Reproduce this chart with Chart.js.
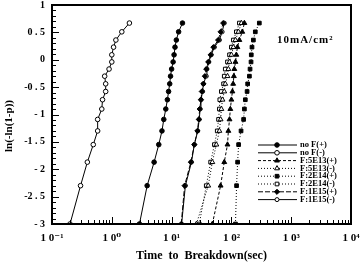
<!DOCTYPE html>
<html>
<head>
<meta charset="utf-8">
<script src="https://cdn.jsdelivr.net/npm/chart.js@4/dist/chart.umd.min.js"></script>
<style>
  html, body { margin: 0; padding: 0; background: #fff; }
  #wrap { width: 361px; height: 262px; }
</style>
</head>
<body>
<div id="wrap"><canvas id="chart" width="361" height="262"></canvas></div>
<script>
// Weibull plot levels ln(-ln(1-p)), shared by all samples
const lnLevels = [-3.0, -2.3, -1.87, -1.55, -1.3, -1.09, -0.9, -0.73, -0.58, -0.44, -0.3, -0.17, -0.04, 0.09, 0.23, 0.36, 0.51, 0.67];

// time to breakdown (sec) for each sample, same order as lnLevels
const noFPlus    = [2.9, 3.9, 5.1, 6.1, 6.9, 7.4, 8.0, 8.5, 8.9, 9.3, 9.6, 10.0, 10.6, 11.0, 11.4, 12.0, 13.1, 15.2];
const noFMinus   = [0.20, 0.30, 0.39, 0.49, 0.58, 0.58, 0.68, 0.70, 0.79, 0.79, 0.76, 0.90, 1.0, 1.0, 1.07, 1.17, 1.47, 1.97];
const f5e13Plus  = [48, 66, 76, 86, 89, 93, 96, 100, 104, 107, 110, 112, 117, 121, 126, 136, 152, 165];
const f5e13Minus = [26, 41, 48, 56, 63, 66, 68, 71, 76, 79, 86, 89, 93, 100, 108, 117, 131, 147];
const f2e14Plus  = [117, 122, 127, 132, 145, 160, 165, 171, 183, 187, 200, 205, 213, 215, 221, 233, 251, 293];
const f2e14Minus = [29, 38, 45, 52, 58, 61, 63, 64, 68, 74, 76, 79, 86, 93, 100, 108, 121, 136];
const f1e15Plus  = [14.5, 16.5, 21, 24, 27, 28.5, 29.5, 31, 32, 34, 36, 38, 41, 45, 50, 60, 66, 73];
const f1e15Minus = [14.7, 17, 21.5, 24, 27.4, 29, 30, 31, 33, 34, 38, 39, 42, 46, 52, 63, 70, 76];

const seriesLabels = ['no F(+)', 'no F(-)', 'F:5E13(+)', 'F:5E13(-)', 'F:2E14(+)', 'F:2E14(-)', 'F:1E15(+)', 'F:1E15(-)'];
const seriesTimes = [noFPlus, noFMinus, f5e13Plus, f5e13Minus, f2e14Plus, f2e14Minus, f1e15Plus, f1e15Minus];

const xTickValues = [0.1, 1, 10, 100, 1000, 10000];
const xTickLabels = ['1 0\u207B\u00B9', '1 0\u2070', '1 0\u00B9', '1 0\u00B2', '1 0\u00B3', '1 0\u2074'];
const yTickValues = [1, 0.5, 0, -0.5, -1, -1.5, -2, -2.5, -3];
const yTickLabels = ['1', '0 . 5', '0', '-0 . 5', '- 1', '-1 . 5', '- 2', '-2 . 5', '- 3'];

const styles = [
  { pointStyle: 'circle',   fill: '#000', radius: 2.3, dash: [] },
  { pointStyle: 'circle',   fill: '#fff', radius: 2.3, dash: [] },
  { pointStyle: 'triangle', fill: '#000', radius: 2.8, dash: [3, 2] },
  { pointStyle: 'triangle', fill: '#fff', radius: 2.8, dash: [1, 2] },
  { pointStyle: 'rect',     fill: '#000', radius: 2.6, dash: [1, 2] },
  { pointStyle: 'rect',     fill: '#fff', radius: 2.6, dash: [1, 2] },
  { pointStyle: 'rectRot',  fill: '#000', radius: 2.6, dash: [5, 2] },
  { pointStyle: 'circle',   fill: '#fff', radius: 2.0, dash: [] }
];

const serif = '"Liberation Serif", "DejaVu Serif", serif';

const datasets = seriesTimes.map((times, i) => ({
  label: seriesLabels[i],
  data: times.map((t, k) => ({ x: t, y: lnLevels[k] })),
  borderColor: '#000',
  borderWidth: 1,
  borderDash: styles[i].dash,
  pointStyle: styles[i].pointStyle,
  pointRadius: styles[i].radius,
  pointBackgroundColor: styles[i].fill,
  pointBorderColor: '#000',
  pointBorderWidth: 1,
  showLine: true,
  tension: 0
}));

// frame, inward ticks, titles, legend and the current-density note
const decorations = {
  id: 'decorations',
  afterDatasetsDraw(chart) {
    const { ctx, chartArea: a, scales: { x, y } } = chart;
    ctx.save();
    ctx.strokeStyle = '#000';
    ctx.lineWidth = 1;
    ctx.setLineDash([]);

    // y minor ticks every 0.1, longer on 0.5
    for (let k = -30; k <= 10; k++) {
      const py = Math.round(y.getPixelForValue(k / 10)) + 0.5;
      const len = k % 5 === 0 ? 7 : 4;
      ctx.beginPath();
      ctx.moveTo(a.left, py);
      ctx.lineTo(a.left + len, py);
      ctx.stroke();
    }
    // x log ticks
    for (let e = -1; e <= 4; e++) {
      for (let m = 1; m <= 9; m++) {
        const v = m * Math.pow(10, e);
        if (v > 10000) break;
        const px = Math.round(x.getPixelForValue(v)) + 0.5;
        const len = m === 1 ? 7 : 4;
        ctx.beginPath();
        ctx.moveTo(px, a.bottom);
        ctx.lineTo(px, a.bottom - len);
        ctx.stroke();
      }
    }
    // frame
    ctx.lineWidth = 2;
    ctx.strokeRect(a.left, a.top, a.right - a.left, a.bottom - a.top);

    // axis titles
    ctx.fillStyle = '#000';
    ctx.font = 'bold 12px ' + serif;
    ctx.textAlign = 'center';
    ctx.textBaseline = 'alphabetic';
    ctx.fillText('Time  to  Breakdown(sec)', (a.left + a.right) / 2, 259);
    ctx.save();
    ctx.translate(9, 126);
    ctx.rotate(-Math.PI / 2);
    ctx.font = 'bold 11px ' + serif;
    ctx.textBaseline = 'middle';
    ctx.fillText('ln(-ln(1-p))', 0, 0);
    ctx.restore();

    // note
    ctx.font = 'bold 11px ' + serif;
    ctx.letterSpacing = '1px';
    ctx.textAlign = 'left';
    ctx.textBaseline = 'middle';
    ctx.fillText('10mA/cm\u00B2', a.right - 74, 40);
    ctx.letterSpacing = '0px';

    // legend
    chart.data.datasets.forEach((ds, i) => {
      const yy = 145 + i * 7.8;
      ctx.lineWidth = 1;
      ctx.strokeStyle = '#000';
      ctx.setLineDash(ds.borderDash.length ? ds.borderDash : []);
      ctx.beginPath();
      ctx.moveTo(a.right - 93, yy);
      ctx.lineTo(a.right - 54, yy);
      ctx.stroke();
      ctx.setLineDash([]);
      ctx.fillStyle = ds.pointBackgroundColor;
      Chart.helpers.drawPoint(ctx, { pointStyle: ds.pointStyle, radius: ds.pointRadius, rotation: 0, borderWidth: 1 }, a.right - 74, yy);
      ctx.fillStyle = '#000';
      ctx.font = 'bold 8.5px ' + serif;
      ctx.fillText(ds.label, a.right - 51, yy);
    });
    ctx.restore();
  }
};

new Chart(document.getElementById('chart').getContext('2d'), {
  type: 'line',
  data: { datasets: datasets },
  options: {
    responsive: false,
    animation: false,
    devicePixelRatio: 1,
    layout: { padding: { top: 5, right: 10, left: 0, bottom: 0 } },
    plugins: { legend: { display: false }, tooltip: { enabled: false } },
    scales: {
      x: {
        type: 'logarithmic',
        min: 0.1,
        max: 10000,
        afterBuildTicks: s => { s.ticks = xTickValues.map(v => ({ value: v })); },
        afterFit: s => { s.height = 38; s.paddingLeft = 0; s.paddingRight = 0; },
        grid: { display: false, drawTicks: false },
        border: { display: false },
        ticks: {
          autoSkip: false,
          maxRotation: 0,
          padding: 8,
          color: '#000',
          font: { family: serif, size: 11, weight: 'bold' },
          callback: v => { const i = xTickValues.indexOf(v); return i >= 0 ? xTickLabels[i] : ''; }
        }
      },
      y: {
        type: 'linear',
        min: -3,
        max: 1,
        afterBuildTicks: s => { s.ticks = yTickValues.map(v => ({ value: v })); },
        afterFit: s => { s.width = 52; s.paddingTop = 0; s.paddingBottom = 0; },
        grid: { display: false, drawTicks: false },
        border: { display: false },
        ticks: {
          autoSkip: false,
          padding: 7,
          color: '#000',
          font: { family: serif, size: 10, weight: 'bold' },
          callback: v => { const i = yTickValues.indexOf(v); return i >= 0 ? yTickLabels[i] : ''; }
        }
      }
    }
  },
  plugins: [decorations]
});
</script>
</body>
</html>
